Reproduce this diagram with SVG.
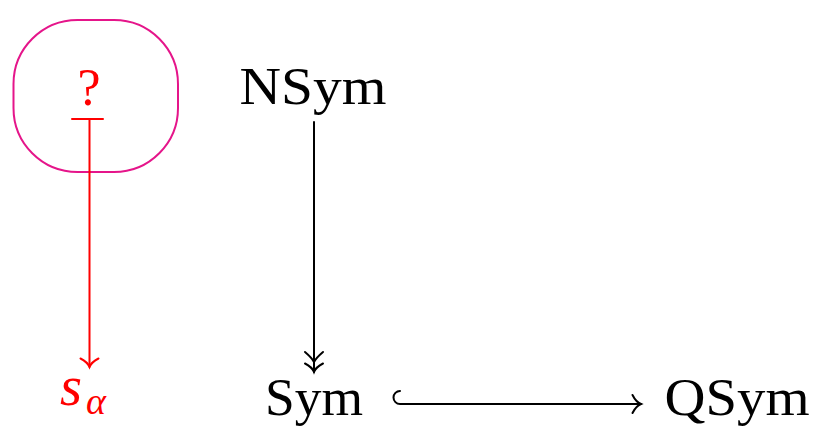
<svg xmlns="http://www.w3.org/2000/svg" width="815" height="430" viewBox="0 0 815 430">
  <style>
    .lbl { font-family: "Liberation Serif", "DejaVu Serif", serif; font-size: 52px; text-anchor: middle; }
    .math { font-family: "Liberation Serif", "DejaVu Serif", serif; font-style: italic; }
    .red { fill: #ff0000; }
    .blk { fill: #000000; }
    .edge { fill: none; stroke-width: 2; stroke-linecap: round; stroke-linejoin: round; }
  </style>
  <defs>
    <!-- curved open arrow tip, pointing along +x -->
    <marker id="tip" markerUnits="userSpaceOnUse" markerWidth="20" markerHeight="24" refX="10" refY="12" orient="auto" overflow="visible">
      <path d="M1.5 3 Q5 10 10 12 Q5 14 1.5 21" fill="none" stroke="context-stroke" stroke-width="2" stroke-linecap="round"/>
    </marker>
  </defs>

  <!-- highlighted node -->
  <g id="node-q">
    <rect x="13.5" y="20" width="164.5" height="152" rx="64" ry="64" fill="none" stroke="#e5158a" stroke-width="2"/>
    <text class="lbl red" x="89" y="105" font-size="50">?</text>
  </g>

  <g id="node-salpha">
    <text x="60" y="405" class="math red" font-size="58" textLength="22" lengthAdjust="spacingAndGlyphs">s</text>
    <text x="86" y="414" class="math red" font-size="38">α</text>
  </g>

  <g id="node-nsym">
    <text class="lbl blk" x="313" y="104" textLength="147" lengthAdjust="spacingAndGlyphs">NSym</text>
  </g>

  <g id="node-sym">
    <text class="lbl blk" x="314" y="415" textLength="98" lengthAdjust="spacingAndGlyphs">Sym</text>
  </g>

  <g id="node-qsym">
    <text class="lbl blk" x="737" y="415" textLength="145" lengthAdjust="spacingAndGlyphs">QSym</text>
  </g>

  <g id="connectors">
    <!-- ? maps to s_alpha -->
    <path class="edge" stroke="#ff0000" d="M72 119 H103"/>
    <path class="edge" stroke="#ff0000" d="M89.5 119 V367" marker-end="url(#tip)"/>

    <!-- NSym onto Sym (two-headed) -->
    <path class="edge" stroke="#000" d="M314 122 V372" marker-end="url(#tip)"/>
    <path class="edge" stroke="#000" d="M305 352 Q312 358 314 362 Q316 358 323 352"/>

    <!-- Sym into QSym (hooked) -->
    <path class="edge" stroke="#000" d="M400 391 A6.5 6.5 0 0 0 400 404 H641" marker-end="url(#tip)"/>
  </g>
</svg>
